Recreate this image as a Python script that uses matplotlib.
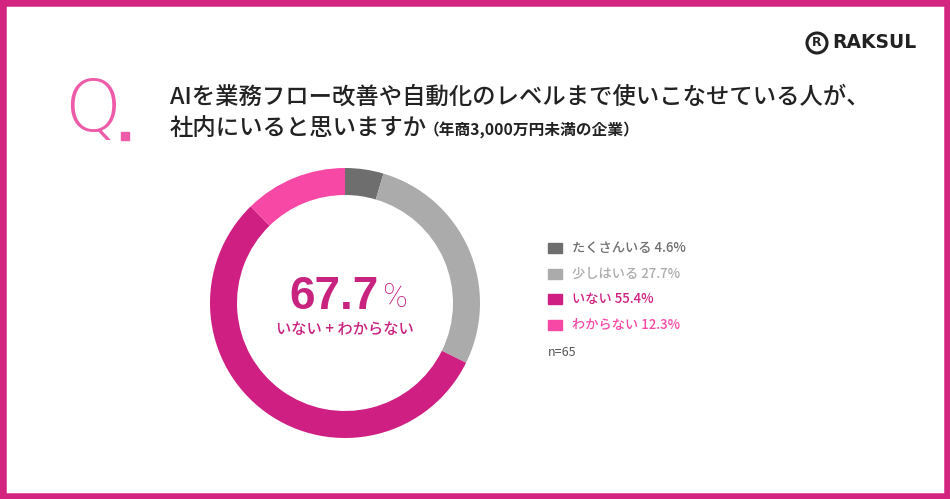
import matplotlib
matplotlib.use("Agg")
import matplotlib.pyplot as plt
from matplotlib.patches import Rectangle, Ellipse

plt.rcParams["font.family"] = ["Noto Sans CJK JP", "DejaVu Sans"]

labels = ["たくさんいる", "少しはいる", "いない", "わからない"]
values = [4.6, 27.7, 55.4, 12.3]
colors = ["#6e6e6e", "#ababab", "#cf1f82", "#f848a6"]
text_colors = ["#6e6e6e", "#ababab", "#cf1f82", "#f848a6"]
n_total = 65
combined = values[2] + values[3]

W, H = 950, 499
fig = plt.figure(figsize=(W / 100, H / 100), dpi=100)
fig.patch.set_facecolor("white")

# frame
fig.add_artist(Rectangle((0, 0), 1, 1, transform=fig.transFigure, fill=False,
                         edgecolor="#d3257f", linewidth=9))


def fx(px):
    return px / W


def fy(py):
    return 1 - py / H


# question header
fig.text(fx(64), fy(112), "Q", fontsize=52, color="#ee5ba8", fontweight="light",
         va="center", ha="left", family=["DejaVu Sans"])
fig.add_artist(Rectangle((fx(121), fy(140)), 8 / W, 8 / H, transform=fig.transFigure,
                         color="#ee5ba8"))
fig.text(fx(170), fy(97), "AIを業務フロー改善や自動化のレベルまで使いこなせている人が、",
         fontsize=16.8, fontweight="medium", color="#222222", va="center", ha="left")
fig.text(fx(170), fy(129), "社内にいると思いますか", fontsize=16.8, fontweight="medium",
         color="#222222", va="center", ha="left")
fig.text(fx(424), fy(130), "（年商3,000万円未満の企業）", fontsize=11.3, fontweight="bold",
         color="#222222", va="center", ha="left")

# logo
fig.add_artist(Ellipse((fx(817), fy(43)), 20 / W, 20 / H, transform=fig.transFigure,
                       fill=False, edgecolor="#222222", linewidth=2.2))
fig.text(fx(817), fy(43), "R", fontsize=9, fontweight="bold", color="#222222",
         ha="center", va="center", family=["DejaVu Sans"])
fig.text(fx(832), fy(43), "RAKSUL", fontsize=13.5, fontweight="bold", color="#222222",
         ha="left", va="center", family=["DejaVu Sans"])

# donut
cx, cy, r = 345, 303, 135
ax = fig.add_axes([fx(cx - r), fy(cy + r), 2 * r / W, 2 * r / H])
ax.pie(values, colors=colors, startangle=90, counterclock=False, radius=1,
       wedgeprops=dict(width=0.2, linewidth=0))
ax.set_xlim(-1, 1)
ax.set_ylim(-1, 1)
ax.set_aspect("equal")
ax.axis("off")

fig.text(fx(379), fy(297), f"{combined:.1f}", fontsize=33, fontweight="bold",
         color="#c8237f", ha="right", va="center", family=["Liberation Sans"])
fig.text(fx(382), fy(298), "%", fontsize=24, fontweight="light", color="#c8237f",
         ha="left", va="center", family=["Roboto", "DejaVu Sans"])
fig.text(fx(345), fy(329), "いない + わからない", fontsize=11, fontweight="medium",
         color="#c8237f", ha="center", va="center")

# legend
ys = [248, 274, 299, 325]
for lab, val, col, tcol, y in zip(labels, values, colors, text_colors, ys):
    fig.add_artist(Rectangle((fx(548), fy(y + 5)), 14 / W, 10 / H,
                             transform=fig.transFigure, color=col))
    fig.text(fx(572), fy(y), f"{lab} {val}%", fontsize=9.5, color=tcol,
             ha="left", va="center", fontweight="medium")
fig.text(fx(548), fy(352), f"n={n_total}", fontsize=9, color="#555555",
         ha="left", va="center")

fig.savefig("out.png", dpi=100, facecolor="white")
